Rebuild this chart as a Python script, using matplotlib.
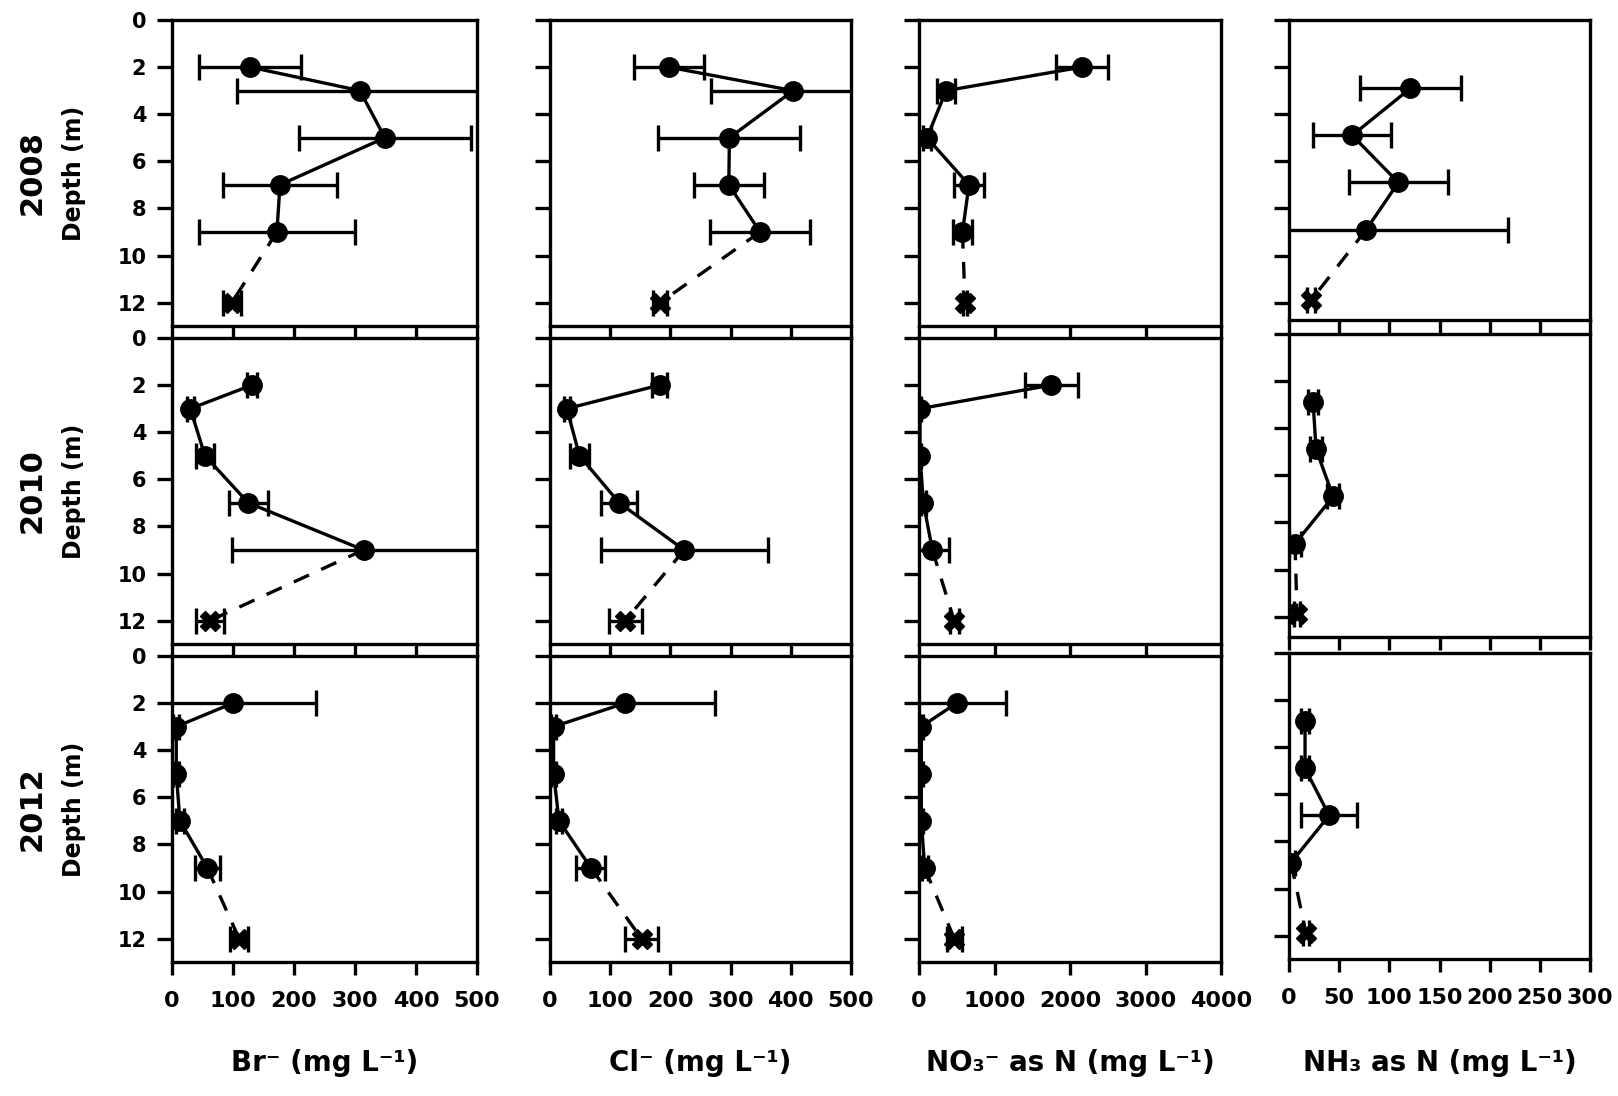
import matplotlib.pyplot as plt

plt.rcParams['font.family'] = 'DejaVu Sans'
plt.rcParams['font.weight'] = 'bold'

# depth of the sampling points (m)
depths = [2, 3, 5, 7, 9, 12]
nh3_depths = [2.9, 4.9, 6.9, 8.9, 11.9]
years = ['2008', '2010', '2012']

# one list per year (2008, 2010, 2012), mean and error bar half-width
br_mean = [[128, 308, 349, 177, 172, 98],
           [131, 30, 54, 125, 314, 62],
           [100, 7, 7, 13, 58, 110]]
br_err = [[84, 201, 141, 94, 128, 15],
          [8, 6, 15, 32, 215, 23],
          [136, 5, 5, 6, 20, 15]]

cl_mean = [[197, 404, 298, 297, 349, 183],
           [182, 28, 49, 115, 223, 125],
           [125, 6, 6, 15, 68, 152]]
cl_err = [[58, 137, 118, 58, 83, 12],
          [12, 5, 15, 30, 139, 27],
          [149, 4, 4, 5, 24, 27]]

no3_mean = [[2159, 358, 106, 662, 576, 609],
            [1754, 13, 13, 58, 177, 465],
            [498, 31, 31, 31, 75, 467]]
no3_err = [[344, 119, 50, 205, 126, 30],
           [348, 20, 20, 30, 226, 60],
           [655, 20, 20, 20, 40, 100]]

nh3_mean = [[121, 63, 109, 77, 22],
            [24, 27, 44, 6, 8],
            [16, 16, 40, 2, 17]]
nh3_err = [[50, 39, 49, 141, 4],
           [5, 6, 6, 6, 3],
           [4, 4, 28, 4, 3]]

xlabels = ['Br\u207b (mg L\u207b\u00b9)', 'Cl\u207b (mg L\u207b\u00b9)',
           'NO\u2083\u207b as N (mg L\u207b\u00b9)', 'NH\u2083 as N (mg L\u207b\u00b9)']
xlims = [500, 500, 4000, 300]
xsteps = [100, 100, 1000, 50]

W, H = 1618, 1096
fig = plt.figure(figsize=(W / 100, H / 100), dpi=100)

col_left = [172, 550, 919, 1289]
col_right = [477, 851, 1221, 1590]
row_top = [[20, 338, 656], [20, 338, 656], [20, 338, 656], [20, 334, 653]]
row_bot = [[326, 644, 962], [326, 644, 962], [326, 644, 962], [320, 637, 959]]
px_per_m = 23.55
lw = 2.4

series = [(br_mean, br_err, depths), (cl_mean, cl_err, depths),
          (no3_mean, no3_err, depths), (nh3_mean, nh3_err, nh3_depths)]

for c in range(4):
    means, errs, dep = series[c]
    for r in range(3):
        t, b = row_top[c][r], row_bot[c][r]
        l, rt = col_left[c], col_right[c]
        ax = fig.add_axes([l / W, 1 - b / H, (rt - l) / W, (b - t) / H])
        x = means[r]
        e = errs[r]
        ax.errorbar(x, dep, xerr=e, fmt='none', ecolor='k', elinewidth=lw,
                    capsize=9.5, capthick=lw, zorder=2)
        ax.plot(x[:-1], dep[:-1], '-', color='k', lw=lw, zorder=3)
        ax.plot(x[-2:], dep[-2:], '--', color='k', lw=lw, dashes=(5, 4), zorder=3)
        ax.plot(x[:-1], dep[:-1], 'o', color='k', ms=14, zorder=4)
        ax.plot(x[-1:], dep[-1:], 'X', color='k', ms=14, zorder=4)

        ax.set_xlim(0, xlims[c])
        ax.set_ylim((b - t) / px_per_m, 0)
        ax.set_xticks(range(0, xlims[c] + 1, xsteps[c]))
        ax.set_yticks(range(0, 13, 2))
        for s in ax.spines.values():
            s.set_linewidth(lw)
        ax.tick_params(axis='x', direction='out', length=9, width=lw,
                       labelsize=16, pad=12, labelbottom=(r == 2))
        ax.tick_params(axis='y', direction='out', length=10.5, width=lw,
                       labelsize=15, pad=8, labelleft=(c == 0))
        for lab in ax.get_xticklabels() + ax.get_yticklabels():
            lab.set_fontweight('bold')

    fig.text((col_left[c] + col_right[c]) / 2 / W, 1 - 1063 / H, xlabels[c],
             ha='center', va='center', fontsize=20, fontweight='bold')

for r in range(3):
    yc = 1 - (row_top[0][r] + row_bot[0][r]) / 2 / H
    fig.text(32 / W, yc, years[r], rotation=90, ha='center', va='center',
             fontsize=22, fontweight='bold')
    fig.text(74 / W, yc, 'Depth (m)', rotation=90, ha='center', va='center',
             fontsize=17, fontweight='bold')

fig.savefig('out.png', dpi=100)
